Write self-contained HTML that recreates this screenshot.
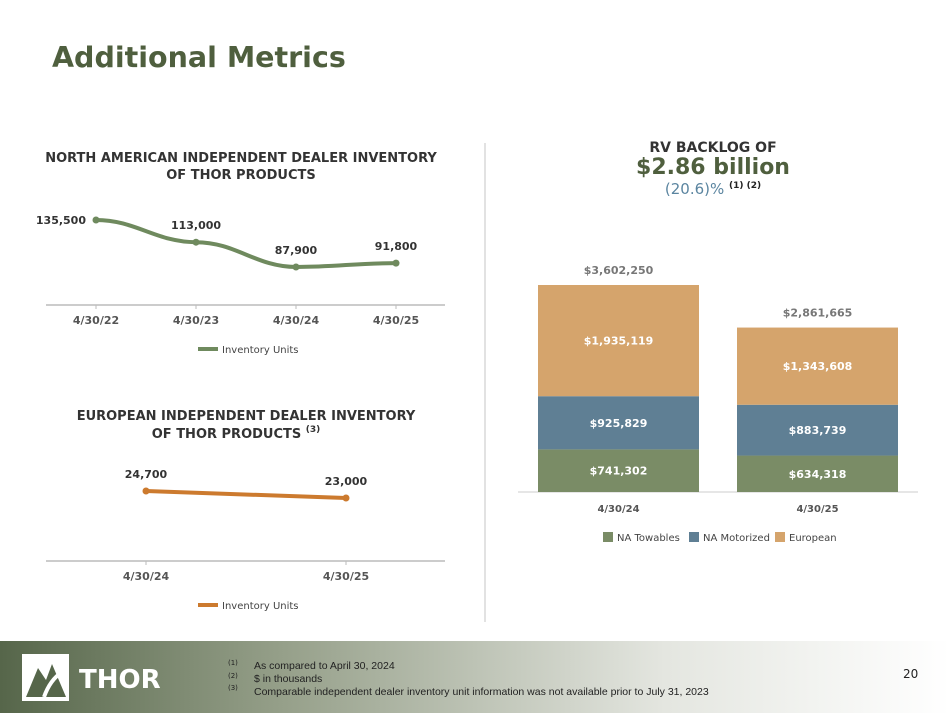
<!DOCTYPE html>
<html><head><meta charset="utf-8"><style>
body{margin:0;width:950px;height:713px;overflow:hidden;background:#fff;font-family:"DejaVu Sans","Liberation Sans",sans-serif;}
svg text{font-family:"DejaVu Sans","Liberation Sans",sans-serif;}
</style></head><body>
<svg width="950" height="713">
<defs><linearGradient id="fg" x1="0" x2="1" y1="0" y2="0">
<stop offset="0" stop-color="#56664a"/><stop offset="0.3" stop-color="#96a08a"/><stop offset="0.7" stop-color="#e4e6e0"/><stop offset="1" stop-color="#ffffff"/></linearGradient></defs>
<text x="52" y="67" font-size="28.5" font-weight="bold" fill="#4f5f3e">Additional Metrics</text>
<line x1="485" y1="143" x2="485" y2="622" stroke="#d8d8d8" stroke-width="1.5"/>
<g font-size="13" font-weight="bold" fill="#333" text-anchor="middle">
<text x="241" y="162">NORTH AMERICAN INDEPENDENT DEALER INVENTORY</text><text x="241" y="179">OF THOR PRODUCTS</text></g>
<g id="c1"></g>
<g font-size="13" font-weight="bold" fill="#333" text-anchor="middle">
<text x="246" y="420">EUROPEAN INDEPENDENT DEALER INVENTORY</text><text x="236" y="438">OF THOR PRODUCTS <tspan font-size="9" dy="-6">(3)</tspan></text></g>
<g id="c2"></g>
<g text-anchor="middle" font-weight="bold">
<text x="713" y="152" font-size="14" fill="#333">RV BACKLOG OF</text>
<text x="713" y="174" font-size="22" fill="#4f5f3e">$2.86 billion</text>
<text x="713" y="194" font-size="15" fill="#5b85a0" font-weight="normal">(20.6)% <tspan font-size="9" fill="#222" font-weight="bold" dy="-6">(1) (2)</tspan></text></g>
<g id="c3"></g>
<rect x="0" y="641" width="950" height="72" fill="url(#fg)"/>
<g>
<rect x="22" y="654" width="47" height="47" fill="#fff"/><path d="M26 697 L38 668 L46 680 L52 664 L66 697 Z" fill="#56664a"/>
<path d="M44 697 Q50 680 62 672" stroke="#fff" stroke-width="4" fill="none"/>
<text x="79" y="688" font-size="26" font-weight="bold" fill="#fff">THOR</text></g>
<g font-size="10.5" fill="#222" style="font-family:'Liberation Sans',sans-serif">
<text x="228" y="665" font-size="7">(1)</text><text x="254" y="669" style="font-family:'Liberation Sans',sans-serif">As compared to April 30, 2024</text>
<text x="228" y="678" font-size="7">(2)</text><text x="254" y="682" style="font-family:'Liberation Sans',sans-serif">$ in thousands</text>
<text x="228" y="690" font-size="7">(3)</text><text x="254" y="695" style="font-family:'Liberation Sans',sans-serif">Comparable independent dealer inventory unit information was not available prior to July 31, 2023</text></g>
<text x="903" y="678" font-size="12" fill="#222">20</text>
</svg>
<script>
const naCats=["4/30/22","4/30/23","4/30/24","4/30/25"];
const naVals=[135500,113000,87900,91800];
const naLabels=["135,500","113,000","87,900","91,800"];
const euCats=["4/30/24","4/30/25"];
const euVals=[24700,23000];
const euLabels=["24,700","23,000"];
const blCats=["4/30/24","4/30/25"];
const blTowables=[741302,634318];
const blMotorized=[925829,883739];
const blEuropean=[1935119,1343608];
const NS="http://www.w3.org/2000/svg";
function mk(p,t,a,txt){const e=document.createElementNS(NS,t);for(const k in a)e.setAttribute(k,a[k]);if(txt!=null)e.textContent=txt;p.appendChild(e);return e;}
function fmt(v){return "$"+v.toLocaleString("en-US");}
function lineChart(g,cats,vals,labels,x0,dx,axisY,base,k,color,ax1,ax2,legY){
 const xs=i=>x0+i*dx, ys=v=>axisY-(v-base)*k;
 const al=mk(g,"line",{x1:ax1,y1:axisY,x2:ax2,y2:axisY,stroke:"#bbb","stroke-width":1.5});
 
 
 let d="M"+xs(0)+" "+ys(vals[0]);
 const smooth=vals.length>2;
 for(let i=1;i<vals.length;i++){const xa=xs(i-1),xb=xs(i),ya=ys(vals[i-1]),yb=ys(vals[i]);
  if(smooth){const c=(xb-xa)*0.4;d+=" C"+(xa+c)+" "+ya+" "+(xb-c)+" "+yb+" "+xb+" "+yb;}else{d+=" L"+xb+" "+yb;}}
 const pl=mk(g,"path",{d:d,stroke:color,"stroke-width":4,fill:"none","stroke-linejoin":"round"});
 
 
 cats.forEach((c,i)=>{
  const t=mk(g,"line",{x1:xs(i),y1:axisY,x2:xs(i),y2:axisY+4,stroke:"#bbb"});
  
  
  const tl=mk(g,"text",{x:xs(i),y:axisY+19,"font-size":11,"font-weight":"bold",fill:"#555","text-anchor":"middle"},c);
  
  
  const pt=mk(g,"circle",{cx:xs(i),cy:ys(vals[i]),r:3.5,fill:color});
  
  
  const first=(i===0&&cats.length>2);
  const lb=mk(g,"text",{x:first?xs(i)-10:xs(i),y:first?ys(vals[i])+4:ys(vals[i])-13,"font-size":11,"font-weight":"bold",fill:"#333","text-anchor":first?"end":"middle"},labels[i]);
  
  
 });
 const lg=mk(g,"g",{});
 
 
 mk(lg,"line",{x1:198,y1:legY,x2:218,y2:legY,stroke:color,"stroke-width":4});
 mk(lg,"text",{x:222,y:legY+4,"font-size":10,fill:"#444"},"Inventory Units");
}
lineChart(document.getElementById("c1"),naCats,naVals,naLabels,96,100,305,49380,0.000987,"#6f8a5e",46,445,349);
lineChart(document.getElementById("c2"),euCats,euVals,euLabels,146,200,561,7710,0.00412,"#cc7a2e",46,445,605);
(function(){
 const g=document.getElementById("c3");
 const base=492,k=207/3602250,xs=[538,737],w=161;
 const series=[[blTowables,"#7a8c66","na-towables"],[blMotorized,"#5f7f94","na-motorized"],[blEuropean,"#d5a46c","european"]];
 const al=mk(g,"line",{x1:518,y1:base,x2:918,y2:base,stroke:"#ccc"});
 
 
 blCats.forEach((c,i)=>{
  let cum=0;
  series.forEach(s=>{
   const v=s[0][i],y1=base-(cum+v)*k,h=v*k;
   const r=mk(g,"rect",{x:xs[i],y:y1,width:w,height:h,fill:s[1]});
   
   
   const t=mk(g,"text",{x:xs[i]+w/2,y:y1+h/2+4,"font-size":11,"font-weight":"bold",fill:"#fff","text-anchor":"middle"},fmt(v));
   
   
   cum+=v;
  });
  const tt=mk(g,"text",{x:xs[i]+w/2,y:base-cum*k-11,"font-size":11,"font-weight":"bold",fill:"#777","text-anchor":"middle"},fmt(cum));
  
  
  const tl=mk(g,"text",{x:xs[i]+w/2,y:base+20,"font-size":10,"font-weight":"bold",fill:"#555","text-anchor":"middle"},c);
  
  
 });
 const leg=[["NA Towables","#7a8c66",603],["NA Motorized","#5f7f94",689],["European","#d5a46c",775]];
 leg.forEach(l=>{
  const e=mk(g,"g",{});
  
  
  mk(e,"rect",{x:l[2],y:532,width:10,height:10,fill:l[1]});
  mk(e,"text",{x:l[2]+14,y:541,"font-size":10,fill:"#444"},l[0]);
 });
})();
</script>
</body></html>
